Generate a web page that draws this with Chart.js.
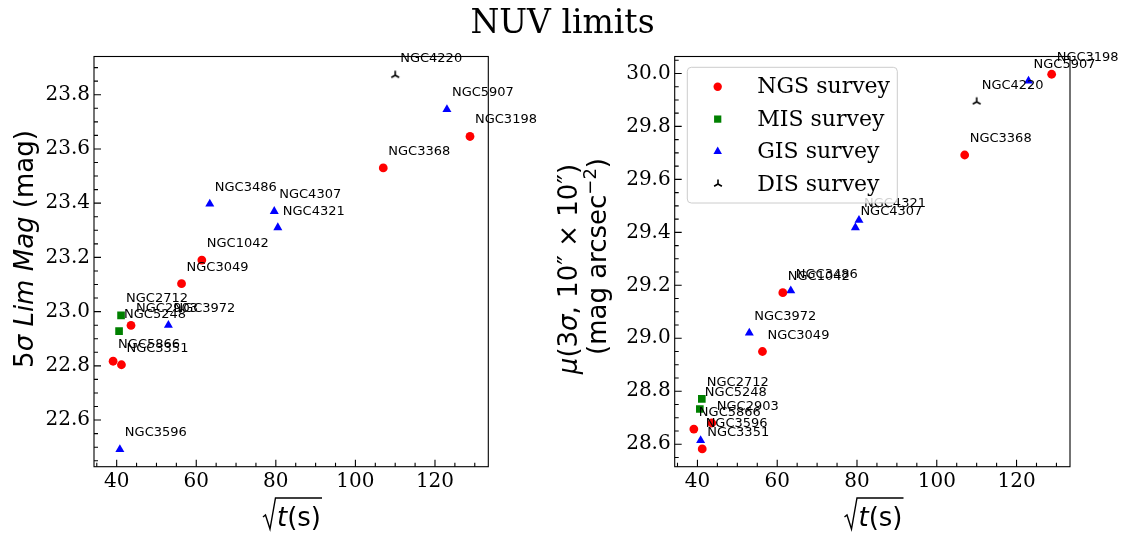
<!DOCTYPE html>
<html>
<head>
<meta charset="utf-8">
<script src="https://cdn.jsdelivr.net/npm/chart.js@4.4.1/dist/chart.umd.min.js"></script>
<style>
    body { margin: 0; background: #fff; }
    #wrap { position: relative; width: 1123px; height: 533px; overflow: hidden; }
    #title { position: absolute; left: 1px; width: 1123px; top: 5px; text-align: center;
             font: 33px "DejaVu Serif"; line-height: 33px; color: #000; }
    canvas { position: absolute; top: 0; }
</style>
</head>
<body>
<div id="wrap">
    <canvas id="leftChart" width="540" height="533" style="left:0"></canvas>
    <canvas id="rightChart" width="583" height="533" style="left:540px"></canvas>
    <div id="title">NUV limits</div>
</div>
<script>
// sqrt(exposure time) per galaxy, 5-sigma limiting magnitude, and surface brightness limit
const ngsNames = ['NGC3198', 'NGC3368', 'NGC1042', 'NGC3049', 'NGC2903', 'NGC5866', 'NGC3351'];
const ngsTime = [128.8, 107.0, 61.4, 56.3, 43.6, 39.1, 41.2];
const ngsLimMag = [23.646, 23.53, 23.19, 23.103, 22.949, 22.817, 22.804];
const ngsSurfBright = [29.997, 29.692, 29.172, 28.95, 28.68, 28.657, 28.582];

const misNames = ['NGC2712', 'NGC5248'];
const misTime = [41.1, 40.6];
const misLimMag = [22.986, 22.928];
const misSurfBright = [28.771, 28.733];

const gisNames = ['NGC5907', 'NGC3486', 'NGC4307', 'NGC4321', 'NGC3972', 'NGC3596'];
const gisTime = [123.0, 63.4, 79.6, 80.5, 53.0, 40.8];
const gisLimMag = [23.746, 23.397, 23.37, 23.31, 22.95, 22.492];
const gisSurfBright = [29.972, 29.18, 29.418, 29.446, 29.02, 28.614];

const disNames = ['NGC4220'];
const disTime = [110.0];
const disLimMag = [23.872];
const disSurfBright = [29.893];

const xTicks = [40, 60, 80, 100, 120];
const leftYTicks = [22.6, 22.8, 23.0, 23.2, 23.4, 23.6, 23.8];
const rightYTicks = [28.6, 28.8, 29.0, 29.2, 29.4, 29.6, 29.8, 30.0];

const tickFont = { family: 'DejaVu Serif', size: 20 };
const axisFont = '26px "DejaVu Sans"';
const axisItalic = 'italic 26px "DejaVu Sans"';

// matplotlib '2' marker (tri_up)
function triUpMarker() {
    const c = document.createElement('canvas');
    c.width = 12; c.height = 12;
    const g = c.getContext('2d');
    g.strokeStyle = '#000';
    g.lineWidth = 1.6;
    const r = 4.5;
    g.beginPath();
    g.moveTo(6, 6); g.lineTo(6, 6 - r);
    g.moveTo(6, 6); g.lineTo(6 - r * 0.866, 6 + r * 0.5);
    g.moveTo(6, 6); g.lineTo(6 + r * 0.866, 6 + r * 0.5);
    g.stroke();
    return c;
}
const triUp = triUpMarker();

function surveySets(useLim) {
    const surveys = [
        { label: 'NGS survey', names: ngsNames, xs: ngsTime, ys: useLim ? ngsLimMag : ngsSurfBright, color: '#ff0000', style: 'circle', r: 4.4 },
        { label: 'MIS survey', names: misNames, xs: misTime, ys: useLim ? misLimMag : misSurfBright, color: '#008000', style: 'rect', r: 5.4 },
        { label: 'GIS survey', names: gisNames, xs: gisTime, ys: useLim ? gisLimMag : gisSurfBright, color: '#0000ff', style: 'triangle', r: 5.2 },
        { label: 'DIS survey', names: disNames, xs: disTime, ys: useLim ? disLimMag : disSurfBright, color: '#000000', style: triUp, r: 5 }
    ];
    return surveys.map(s => ({
        label: s.label,
        names: s.names,
        data: s.xs.map((x, i) => ({ x: x, y: s.ys[i] })),
        pointStyle: s.style,
        pointRadius: s.r,
        pointHoverRadius: s.r,
        pointBackgroundColor: s.color,
        pointBorderColor: s.color,
        pointBorderWidth: 0,
        showLine: false
    }));
}

function drawRuns(ctx, runs, cx, baseY, rotate) {
    ctx.save();
    ctx.translate(cx, baseY);
    if (rotate) ctx.rotate(-Math.PI / 2);
    ctx.fillStyle = '#000';
    ctx.textBaseline = 'alphabetic';
    let total = 0;
    runs.forEach(r => { ctx.font = r.f; r.w = ctx.measureText(r.t).width; total += r.w; });
    let x = -total / 2;
    runs.forEach(r => { ctx.font = r.f; ctx.fillText(r.t, x, r.dy || 0); x += r.w; });
    ctx.restore();
}

function drawSqrtTitle(ctx, cx, baseY) {
    const runs = [{ t: 't', f: axisItalic }, { t: '(s)', f: axisFont }];
    let w = 0;
    ctx.save();
    runs.forEach(r => { ctx.font = r.f; r.w = ctx.measureText(r.t).width; w += r.w; });
    const rad = 14;
    const x0 = cx - (rad + w) / 2;
    ctx.strokeStyle = '#000';
    ctx.lineWidth = 1.4;
    ctx.beginPath();
    ctx.moveTo(x0, baseY - 9);
    ctx.lineTo(x0 + 2.5, baseY - 11);
    ctx.lineTo(x0 + 7, baseY + 3);
    ctx.lineTo(x0 + 12.5, baseY - 28);
    ctx.lineTo(x0 + rad + w + 1, baseY - 28);
    ctx.stroke();
    ctx.fillStyle = '#000';
    let x = x0 + rad;
    runs.forEach(r => { ctx.font = r.f; ctx.fillText(r.t, x, baseY); x += r.w; });
    ctx.restore();
}

function drawMarker(ctx, ds, x, y) {
    const r = ds.pointRadius, st = ds.pointStyle;
    if (typeof st !== 'string') {
        ctx.drawImage(st, Math.round(x - st.width / 2), Math.round(y - st.height / 2));
        return;
    }
    ctx.fillStyle = ds.pointBackgroundColor;
    ctx.beginPath();
    if (st === 'circle') {
        ctx.arc(x, y, r, 0, Math.PI * 2);
    } else if (st === 'rect') {
        const h = r * Math.SQRT1_2;
        ctx.rect(x - h, y - h, 2 * h, 2 * h);
    } else {
        for (let k = 0; k < 3; k++) {
            const ang = k * 2 * Math.PI / 3;
            ctx.lineTo(x + Math.sin(ang) * r, y - Math.cos(ang) * r);
        }
        ctx.closePath();
    }
    ctx.fill();
}

function drawLegend(chart) {
    const ctx = chart.ctx, a = chart.chartArea;
    const bx = a.left + 12.6, by = a.top + 10.8, bw = 210, bh = 135.7, rr = 4;
    ctx.save();
    ctx.beginPath();
    ctx.moveTo(bx + rr, by);
    ctx.arcTo(bx + bw, by, bx + bw, by + bh, rr);
    ctx.arcTo(bx + bw, by + bh, bx, by + bh, rr);
    ctx.arcTo(bx, by + bh, bx, by, rr);
    ctx.arcTo(bx, by, bx + bw, by, rr);
    ctx.closePath();
    ctx.fillStyle = 'rgba(255,255,255,0.8)';
    ctx.fill();
    ctx.strokeStyle = '#cccccc';
    ctx.lineWidth = 1;
    ctx.stroke();
    chart.data.datasets.forEach((ds, i) => {
        const rowY = by + 19.4 + i * 32.4;
        drawMarker(ctx, Object.assign({}, ds, { pointRadius: ds.pointRadius * 0.95 }), bx + 30.4, rowY);
        ctx.font = '22px "DejaVu Serif"';
        ctx.fillStyle = '#000';
        ctx.textBaseline = 'alphabetic';
        ctx.fillText(ds.label, bx + 70, rowY + 6.6);
    });
    ctx.restore();
}

// point names, frame, inward ticks, axis titles and legend
const decor = {
    id: 'decor',
    afterDatasetsDraw(chart) {
        const ctx = chart.ctx;
        ctx.save();
        ctx.font = '13px "DejaVu Sans"';
        ctx.fillStyle = '#000';
        ctx.textBaseline = 'alphabetic';
        chart.data.datasets.forEach((ds, di) => {
            chart.getDatasetMeta(di).data.forEach((pt, i) => {
                ctx.fillText(ds.names[i], pt.x + 5, pt.y - 13);
            });
        });
        ctx.restore();
    },
    afterDraw(chart, args, opts) {
        const ctx = chart.ctx, a = chart.chartArea;
        const xs = chart.scales.x, ys = chart.scales.y;
        ctx.save();
        ctx.strokeStyle = '#000';
        ctx.lineWidth = 1.1;
        ctx.strokeRect(a.left, a.top, a.right - a.left, a.bottom - a.top);

        ctx.beginPath();
        // x ticks: major every 20, minor every 5
        for (let k = Math.ceil(xs.min / 5); k <= Math.floor(xs.max / 5); k++) {
            const v = k * 5;
            const len = (v % 20 === 0) ? 7 : 4;
            const px = xs.getPixelForValue(v);
            ctx.moveTo(px, a.bottom);
            ctx.lineTo(px, a.bottom - len);
        }
        // y ticks: major every 0.2, minor every 0.05
        for (let k = Math.ceil(ys.min * 20); k <= Math.floor(ys.max * 20); k++) {
            const len = (k % 4 === 0) ? 7 : 4;
            const py = ys.getPixelForValue(k / 20);
            ctx.moveTo(a.left, py);
            ctx.lineTo(a.left + len, py);
        }
        ctx.stroke();
        ctx.restore();

        if (opts.legend) drawLegend(chart);
        if (opts.titles) opts.titles(ctx, chart);
    }
};

function buildChart(canvasId, useLim, yMin, yMax, yTicks, area, withLegend, titles) {
    const canvas = document.getElementById(canvasId);
    return new Chart(canvas, {
        type: 'scatter',
        data: { datasets: surveySets(useLim) },
        options: {
            responsive: false,
            animation: false,
            events: [],
            layout: { padding: { left: 0, top: area.top, right: canvas.width - area.right, bottom: 0 } },
            scales: {
                x: {
                    type: 'linear',
                    min: 34.3,
                    max: 133.4,
                    afterBuildTicks: s => { s.ticks = xTicks.map(v => ({ value: v })); },
                    afterFit: s => { s.height = canvas.height - area.bottom; },
                    grid: { display: false, drawTicks: false },
                    border: { display: false },
                    ticks: { font: tickFont, color: '#000', padding: 3, maxRotation: 0, autoSkip: false,
                             callback: v => String(v) }
                },
                y: {
                    type: 'linear',
                    min: yMin,
                    max: yMax,
                    afterBuildTicks: s => { s.ticks = yTicks.map(v => ({ value: v })); },
                    afterFit: s => { s.width = area.left; },
                    grid: { display: false, drawTicks: false },
                    border: { display: false },
                    ticks: { font: tickFont, color: '#000', padding: 4, autoSkip: false,
                             callback: v => v.toFixed(1) }
                }
            },
            plugins: {
                legend: { display: false },
                tooltip: { enabled: false },
                decor: { legend: withLegend, titles: titles }
            }
        },
        plugins: [decor]
    });
}

buildChart('leftChart', true, 22.428, 23.941, leftYTicks,
    { left: 94, top: 56.5, right: 488.3, bottom: 466.7 }, false,
    (ctx) => {
        drawRuns(ctx, [
            { t: '5', f: axisFont }, { t: 'σ ', f: axisItalic }, { t: 'Lim Mag', f: axisItalic },
            { t: ' (mag)', f: axisFont }
        ], 33, 249, true);
        drawSqrtTitle(ctx, 292, 526);
    });

buildChart('rightChart', false, 28.515, 30.064, rightYTicks,
    { left: 134.7, top: 56.5, right: 530, bottom: 466.7 }, true,
    (ctx) => {
        drawRuns(ctx, [
            { t: 'μ', f: axisItalic }, { t: '(3', f: axisFont }, { t: 'σ', f: axisItalic },
            { t: ', 10″ × 10″)', f: axisFont }
        ], 37, 269, true);
        drawRuns(ctx, [
            { t: '(mag arcsec', f: axisFont }, { t: '−2', f: '18px "DejaVu Sans"', dy: -10 },
            { t: ')', f: axisFont }
        ], 66, 256.5, true);
        drawSqrtTitle(ctx, 333.5, 526);
    });
</script>
</body>
</html>
